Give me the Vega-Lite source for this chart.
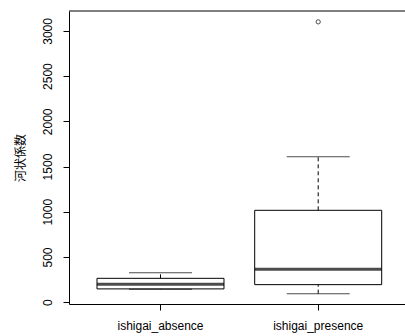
{
  "$schema": "https://vega.github.io/schema/vega-lite/v6.json",
  "autosize": {"type": "none"},
  "padding": {"left": 69, "top": 11, "right": 0, "bottom": 32},
  "width": 336,
  "height": 293,
  "config": {
    "view": {"stroke": null},
    "font": "Liberation Sans",
    "axis": {"grid": false, "domainColor": "black", "tickColor": "black", "labelColor": "black", "labelFontSize": 12, "tickSize": 6, "domainWidth": 1, "tickWidth": 1}
  },
  "datasets": {
    "stats": [
      {"group": "ishigai_absence", "lower": 144, "q1": 147, "median": 198, "q3": 264, "upper": 326},
      {"group": "ishigai_presence", "lower": 94, "q1": 194, "median": 364, "q3": 1016, "upper": 1609}
    ],
    "outliers": [
      {"group": "ishigai_presence", "value": 3100}
    ],
    "frame": [
      {"top": 3220}
    ]
  },
  "layer": [
    {
      "data": {"name": "stats"},
      "mark": {"type": "bar", "size": 127, "fill": "white", "stroke": "black", "strokeWidth": 1},
      "encoding": {
        "x": {"field": "group", "type": "nominal", "scale": {"type": "band", "domain": ["ishigai_absence", "ishigai_presence"], "paddingInner": 0, "paddingOuter": 0.0653, "align": 0.614},
          "axis": {"title": null, "labelAngle": 0, "labelBaseline": "alphabetic", "labelPadding": 19.5}},
        "y": {"field": "q1", "type": "quantitative", "scale": {"domain": [-20, 3220], "nice": false, "zero": false},
          "axis": {"title": "河状係数", "format": "d", "values": [0, 500, 1000, 1500, 2000, 2500, 3000], "labelAngle": -90, "labelAlign": "center", "labelBaseline": "alphabetic", "labelPadding": 12,
            "titleFont": "Noto Sans CJK JP", "titleFontSize": 12, "titleFontWeight": "normal", "titleColor": "black", "titleAngle": -90, "titleX": -45, "titleY": 146.5, "titleAlign": "center", "titleBaseline": "alphabetic"}},
        "y2": {"field": "q3"}
      }
    },
    {
      "data": {"name": "stats"},
      "mark": {"type": "rule", "color": "black", "strokeWidth": 1, "strokeDash": [4, 3]},
      "encoding": {
        "x": {"field": "group", "type": "nominal"},
        "y": {"field": "q3", "type": "quantitative"},
        "y2": {"field": "upper"}
      }
    },
    {
      "data": {"name": "stats"},
      "mark": {"type": "rule", "color": "black", "strokeWidth": 1, "strokeDash": [4, 3]},
      "encoding": {
        "x": {"field": "group", "type": "nominal"},
        "y": {"field": "lower", "type": "quantitative"},
        "y2": {"field": "q1"}
      }
    },
    {
      "data": {"name": "stats"},
      "mark": {"type": "tick", "color": "black", "size": 63, "thickness": 1},
      "encoding": {
        "x": {"field": "group", "type": "nominal"},
        "y": {"field": "upper", "type": "quantitative"}
      }
    },
    {
      "data": {"name": "stats"},
      "mark": {"type": "tick", "color": "black", "size": 63, "thickness": 1},
      "encoding": {
        "x": {"field": "group", "type": "nominal"},
        "y": {"field": "lower", "type": "quantitative"}
      }
    },
    {
      "data": {"name": "stats"},
      "mark": {"type": "tick", "color": "black", "size": 127, "thickness": 3},
      "encoding": {
        "x": {"field": "group", "type": "nominal"},
        "y": {"field": "median", "type": "quantitative"}
      }
    },
    {
      "data": {"name": "outliers"},
      "mark": {"type": "point", "shape": "circle", "filled": false, "color": "black", "strokeWidth": 1, "size": 18},
      "encoding": {
        "x": {"field": "group", "type": "nominal"},
        "y": {"field": "value", "type": "quantitative"}
      }
    },
    {
      "data": {"name": "frame"},
      "mark": {"type": "rule", "color": "black", "strokeWidth": 1},
      "encoding": {
        "y": {"field": "top", "type": "quantitative"}
      }
    }
  ]
}
